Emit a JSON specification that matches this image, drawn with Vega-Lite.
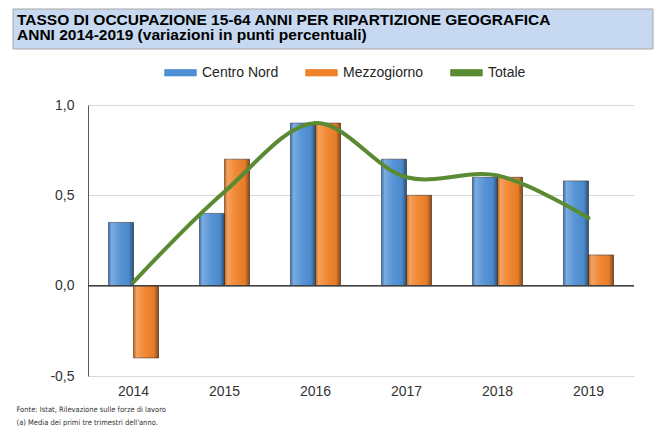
{
  "$schema": "https://vega.github.io/schema/vega-lite/v6.json",
  "padding": {"left": 12, "top": 8, "right": 2, "bottom": 0},
  "background": "white",
  "datasets": {
    "header": [
      {"line": 1, "text": "TASSO DI OCCUPAZIONE 15-64 ANNI PER RIPARTIZIONE GEOGRAFICA"},
      {"line": 2, "text": "ANNI 2014-2019 (variazioni in punti percentuali)"}
    ],
    "bars": [
      {"year": "2014", "serie": "Centro Nord", "value": 0.35},
      {"year": "2014", "serie": "Mezzogiorno", "value": -0.4},
      {"year": "2015", "serie": "Centro Nord", "value": 0.4},
      {"year": "2015", "serie": "Mezzogiorno", "value": 0.7},
      {"year": "2016", "serie": "Centro Nord", "value": 0.9},
      {"year": "2016", "serie": "Mezzogiorno", "value": 0.9},
      {"year": "2017", "serie": "Centro Nord", "value": 0.7},
      {"year": "2017", "serie": "Mezzogiorno", "value": 0.5},
      {"year": "2018", "serie": "Centro Nord", "value": 0.6},
      {"year": "2018", "serie": "Mezzogiorno", "value": 0.6},
      {"year": "2019", "serie": "Centro Nord", "value": 0.58},
      {"year": "2019", "serie": "Mezzogiorno", "value": 0.17}
    ],
    "totale": [
      {"year": "2014", "value": 0.02},
      {"year": "2015", "value": 0.52},
      {"year": "2016", "value": 0.9},
      {"year": "2017", "value": 0.6},
      {"year": "2018", "value": 0.61},
      {"year": "2019", "value": 0.375}
    ]
  },
  "title": {
    "text": ["Fonte: Istat, Rilevazione sulle forze di lavoro", "(a) Media dei primi tre trimestri dell'anno."],
    "orient": "bottom",
    "anchor": "start",
    "frame": "bounds",
    "dx": 4,
    "offset": 8,
    "fontSize": 7.5,
    "fontWeight": "normal",
    "font": "Liberation Sans Narrow, DejaVu Sans Condensed, sans-serif",
    "color": "#333333",
    "lineHeight": 13
  },
  "spacing": 6,
  "resolve": {"scale": {"color": "independent"}, "legend": {"color": "independent"}},
  "vconcat": [
    {
      "width": 640,
      "height": 40,
      "layer": [
        {
          "data": {"values": [{}]},
          "mark": {"type": "rect", "fill": "#c6d9f0", "stroke": "#a6a6a6", "strokeWidth": 1},
          "encoding": {}
        },
        {
          "data": {"name": "header"},
          "mark": {"type": "text", "align": "left", "baseline": "middle", "dx": 4, "dy": -1.5, "fontSize": 15.5, "fontWeight": "bold", "font": "Liberation Sans", "color": "#000000"},
          "encoding": {
            "x": {"datum": 0, "type": "quantitative", "scale": {"domain": [0, 1]}, "axis": null},
            "y": {"field": "line", "type": "ordinal", "axis": null, "scale": {"type": "point", "padding": 0.79}},
            "text": {"field": "text"}
          }
        }
      ]
    },
    {
      "spacing": 0,
      "resolve": {"scale": {"color": "independent"}, "legend": {"color": "independent"}},
      "hconcat": [
        {
          "width": 1,
          "height": 271,
          "data": {"values": []},
          "mark": "rect"
        },
        {
          "width": 546,
          "height": 271,
          "layer": [
            {
              "data": {"name": "bars"},
              "mark": {"type": "bar", "stroke": "#303030", "strokeWidth": 0.8, "strokeOpacity": 0.7},
              "encoding": {
                "x": {
                  "field": "year",
                  "type": "nominal",
                  "title": null,
                  "scale": {"paddingInner": 0.45, "paddingOuter": 0.225},
                  "axis": {"labelAngle": 0, "domain": false, "ticks": false, "labelPadding": 8, "labelFontSize": 14, "labelColor": "#333333", "labelFont": "Liberation Sans"}
                },
                "xOffset": {"field": "serie", "type": "nominal", "sort": ["Centro Nord", "Mezzogiorno"]},
                "y": {
                  "field": "value",
                  "type": "quantitative",
                  "title": null,
                  "scale": {"domain": [-0.5, 1], "nice": false},
                  "axis": {
                    "values": [-0.5, 0, 0.5, 1],
                    "format": ".1f",
                    "grid": true,
                    "gridColor": "#d9d9d9",
                    "gridWidth": 1,
                    "domain": true,
                    "domainColor": "#595959",
                    "domainWidth": 1,
                    "ticks": false,
                    "labelPadding": 14,
                    "labelFontSize": 14,
                    "labelColor": "#333333",
                    "labelFont": "Liberation Sans",
                    "minExtent": 74
                  }
                },
                "color": {
                  "field": "serie",
                  "type": "nominal",
                  "scale": {"domain": ["Centro Nord", "Mezzogiorno", "Totale"], "range": ["#4f90d5", "#f0822a", "#5a8a32"]},
                  "legend": {
                    "title": null,
                    "orient": "none",
                    "legendX": 76,
                    "legendY": -49,
                    "direction": "horizontal",
                    "symbolType": "M-1,-0.2L1,-0.2L1,0.2L-1,0.2Z",
                    "symbolSize": 1000,
                    "symbolStrokeWidth": 0.8,
                    "symbolStrokeColor": "#404040",
                    "labelFontSize": 14,
                    "labelFont": "Liberation Sans",
                    "labelColor": "#262626",
                    "labelOffset": 5,
                    "columnPadding": 25
                  }
                }
              }
            },
            {
              "data": {"name": "bars"},
              "mark": {
                "type": "bar",
                "fill": {
                  "gradient": "linear", "x1": 0, "x2": 1, "y1": 0, "y2": 0,
                  "stops": [
                    {"offset": 0, "color": "rgba(0,0,0,0.12)"},
                    {"offset": 0.12, "color": "rgba(255,255,255,0.25)"},
                    {"offset": 0.45, "color": "rgba(255,255,255,0.05)"},
                    {"offset": 0.82, "color": "rgba(0,0,0,0.05)"},
                    {"offset": 1, "color": "rgba(0,0,0,0.45)"}
                  ]
                }
              },
              "encoding": {
                "x": {"field": "year", "type": "nominal"},
                "xOffset": {"field": "serie", "type": "nominal", "sort": ["Centro Nord", "Mezzogiorno"]},
                "y": {"field": "value", "type": "quantitative"}
              }
            },
            {
              "data": {"values": [{"zero": 0}]},
              "mark": {"type": "rule", "color": "#404040", "strokeWidth": 1.5},
              "encoding": {"y": {"field": "zero", "type": "quantitative"}}
            },
            {
              "data": {"name": "totale"},
              "mark": {"type": "line", "interpolate": "catmull-rom", "strokeWidth": 4, "strokeCap": "round"},
              "encoding": {
                "x": {"field": "year", "type": "nominal"},
                "y": {"field": "value", "type": "quantitative"},
                "color": {"datum": "Totale"}
              }
            }
          ]
        }
      ]
    }
  ],
  "config": {
    "view": {"stroke": null},
    "font": "Liberation Sans",
    "locale": {"number": {"decimal": ",", "thousands": ".", "grouping": [3], "currency": ["", " €"], "minus": "-"}}
  }
}
